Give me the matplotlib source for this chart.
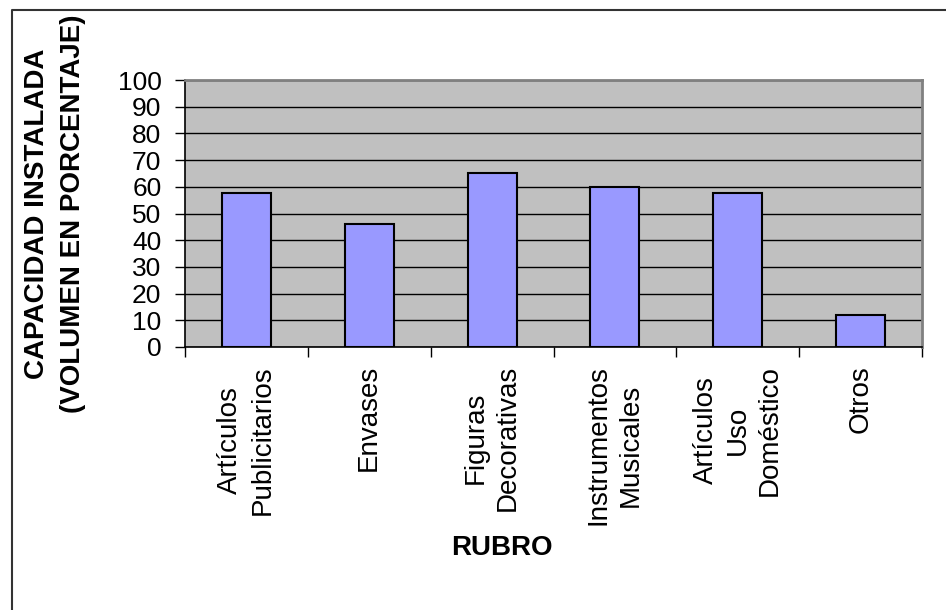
import numpy as np
import matplotlib
matplotlib.use('Agg')
import matplotlib.pyplot as plt
from matplotlib.lines import Line2D

categories = ['Artículos\nPublicitarios', 'Envases', 'Figuras\nDecorativas',
              'Instrumentos\nMusicales', 'Artículos\nUso\nDoméstico', 'Otros']
values = [57.5, 46, 65, 60, 57.5, 12]
yticks = [0, 10, 20, 30, 40, 50, 60, 70, 80, 90, 100]

plt.rcParams['font.family'] = ['Liberation Sans', 'DejaVu Sans']

fig = plt.figure(figsize=(9.46, 6.10), dpi=100)
ax = fig.add_axes([185 / 946, 1 - 347 / 610, (922 - 185) / 946, (347 - 80) / 610])

x = np.arange(len(categories))
ax.set_facecolor('#C0C0C0')
ax.bar(x, values, width=0.4, color='#9999FF', edgecolor='black', linewidth=1.5, zorder=3)

ax.set_xlim(-0.5, len(categories) - 0.5)
ax.set_ylim(0, 100)
ax.set_yticks(yticks)
ax.set_yticklabels([str(v) for v in yticks], fontsize=19)
ax.yaxis.grid(True, color='black', linewidth=1.0, zorder=1)
ax.set_axisbelow(True)

# category ticks at the boundaries, labels at the centres
ax.set_xticks(x)
ax.set_xticklabels([])
ax.tick_params(axis='x', which='major', length=0)
ax.set_xticks(np.arange(len(categories) + 1) - 0.5, minor=True)
ax.tick_params(axis='x', which='minor', length=7, width=1, direction='out')
ax.tick_params(axis='y', length=7, width=1, direction='out', pad=10)

for xi, lab in zip(x, categories):
    ax.annotate(lab, xy=(xi, 0), xycoords=('data', 'axes fraction'),
                xytext=(0, -13), textcoords='offset points',
                rotation=90, ha='center', va='top', multialignment='center',
                fontsize=20, linespacing=1.3)

for s in ['left', 'bottom']:
    ax.spines[s].set_color('black')
    ax.spines[s].set_linewidth(1.2)
for s in ['top', 'right']:
    ax.spines[s].set_color('#808080')
    ax.spines[s].set_linewidth(2)

fig.text(55 / 946, 1 - 214 / 610, 'CAPACIDAD INSTALADA\n(VOLUMEN EN PORCENTAJE)',
         rotation=90, ha='center', va='center', multialignment='center',
         fontsize=20, fontweight='bold', linespacing=1.45)
fig.text(502 / 946, 1 - 548 / 610, 'RUBRO', ha='center', va='center',
         fontsize=20, fontweight='bold')

# outer chart frame (only top and left edges visible)
fig.add_artist(Line2D([12 / 946, 12 / 946, 1], [0, 1 - 10 / 610, 1 - 10 / 610],
                      transform=fig.transFigure, color='#333333', linewidth=1.5))

fig.savefig('out.png', dpi=100)
